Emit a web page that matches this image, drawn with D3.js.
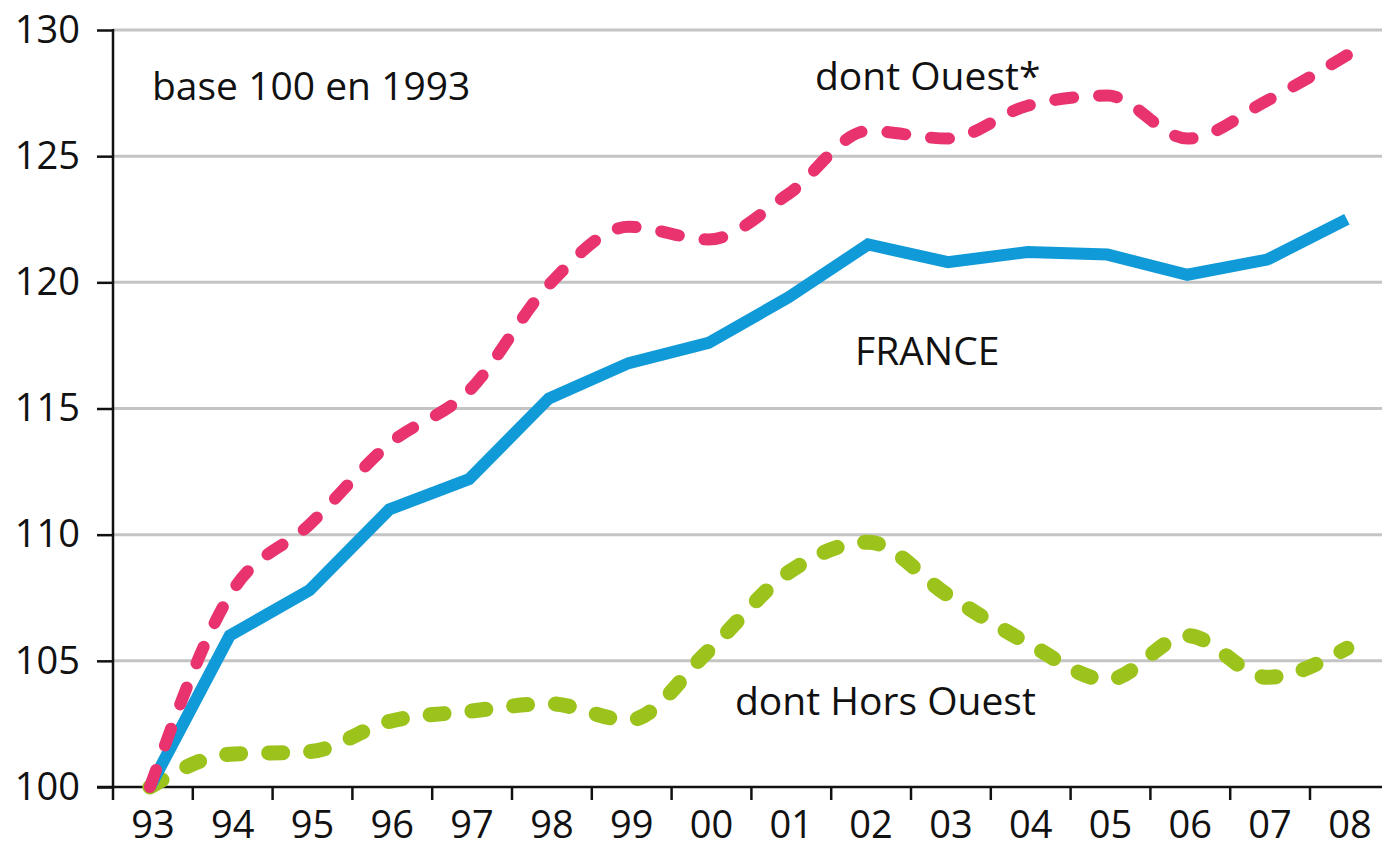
<!DOCTYPE html>
<html>
<head>
<meta charset="utf-8">
<script src="https://cdn.jsdelivr.net/npm/d3@7"></script>
<style>
  body { margin: 0; background: #fff; }
  svg { display: block; font-family: 'Open Sans', sans-serif; }
</style>
</head>
<body>
<svg width="1382" height="850"></svg>
<script>
// years on x axis
const years = ['93', '94', '95', '96', '97', '98', '99', '00', '01', '02', '03', '04', '05', '06', '07', '08'];
// index values, base 100 in 1993
const france = [100, 106.0, 107.8, 111.0, 112.2, 115.4, 116.8, 117.6, 119.4, 121.5, 120.8, 121.2, 121.1, 120.3, 120.9, 122.5];
const ouest = [100, 107.6, 110.4, 113.6, 115.7, 119.9, 122.2, 121.7, 123.5, 126.0, 125.7, 127.0, 127.4, 125.7, 127.2, 129.0];
const horsOuest = [100, 101.3, 101.4, 102.6, 103.0, 103.3, 102.65, 105.4, 108.5, 109.7, 107.6, 105.7, 104.25, 106.0, 104.35, 105.5];
const yTicks = [100, 105, 110, 115, 120, 125, 130];

const svg = d3.select('svg');
const width = 1382;

// plot box: left axis at 113, 100 at 787, 130 at 30
const x = d3.scaleBand().domain(years).range([113, 113 + 16 * 79.8]);
const y = d3.scaleLinear().domain([100, 130]).range([787, 30]);

//grid lines
svg.append('g')
  .selectAll('line')
  .data(yTicks.slice(1))
  .enter()
  .append('line')
  .attr('x1', 113)
  .attr('x2', width)
  .attr('y1', d => y(d))
  .attr('y2', d => y(d))
  .attr('stroke', '#c4c4c4')
  .attr('stroke-width', 3);

//y axis
const yAxis = svg.append('g')
  .attr('transform', 'translate(113,0)')
  .call(d3.axisLeft(y).tickValues(yTicks).tickSize(16).tickPadding(17).tickSizeOuter(0));
yAxis.select('.domain').remove();
yAxis.selectAll('.tick line').attr('stroke', '#111').attr('stroke-width', 2.5);
yAxis.selectAll('.tick text')
  .style('font-size', '38px')
  .style('font-family', "'Open Sans', sans-serif")
  .attr('fill', '#111');
svg.append('line')
  .attr('x1', 113).attr('x2', 113)
  .attr('y1', y(130) - 1).attr('y2', 800)
  .attr('stroke', '#111').attr('stroke-width', 2.5);

//x axis, labels in the middle of each band
const xAxis = svg.append('g')
  .attr('transform', 'translate(0,' + y(100) + ')')
  .call(d3.axisBottom(x).tickSize(0).tickPadding(24));
xAxis.select('.domain').remove();
xAxis.selectAll('.tick text')
  .style('font-size', '38px')
  .style('font-family', "'Open Sans', sans-serif")
  .attr('fill', '#111');
svg.append('line')
  .attr('x1', 97).attr('x2', width)
  .attr('y1', y(100)).attr('y2', y(100))
  .attr('stroke', '#111').attr('stroke-width', 2.5);

// tick marks on band edges
svg.append('g')
  .selectAll('line')
  .data(years.slice(1))
  .enter()
  .append('line')
  .attr('x1', d => x(d))
  .attr('x2', d => x(d))
  .attr('y1', y(100))
  .attr('y2', 800)
  .attr('stroke', '#111')
  .attr('stroke-width', 2.5);

const cx = i => x(years[i]) + x.bandwidth() / 2 - 3;

// series lines
const lineLin = d3.line().x((d, i) => cx(i)).y(d => y(d));
const lineSmooth = d3.line().x((d, i) => cx(i)).y(d => y(d)).curve(d3.curveMonotoneX);

svg.append('path')
  .datum(horsOuest)
  .attr('d', lineSmooth)
  .attr('fill', 'none')
  .attr('stroke', '#9cc21c')
  .attr('stroke-width', 15)
  .attr('stroke-linecap', 'round')
  .attr('stroke-dasharray', '14,28');

svg.append('path')
  .datum(france)
  .attr('d', lineLin)
  .attr('fill', 'none')
  .attr('stroke', '#119ad8')
  .attr('stroke-width', 12);

svg.append('path')
  .datum(ouest)
  .attr('d', lineSmooth)
  .attr('fill', 'none')
  .attr('stroke', '#e8336e')
  .attr('stroke-width', 12)
  .attr('stroke-linecap', 'round')
  .attr('stroke-dasharray', '18,26');

//labels
const labels = [
  { t: 'base 100 en 1993', x: 152, y: 100 },
  { t: 'dont Ouest*', x: 815, y: 90 },
  { t: 'FRANCE', x: 855, y: 365 },
  { t: 'dont Hors Ouest', x: 735, y: 715 }
];
svg.append('g')
  .selectAll('text')
  .data(labels)
  .enter()
  .append('text')
  .attr('x', d => d.x)
  .attr('y', d => d.y)
  .style('font-size', '39px')
  .attr('fill', '#111')
  .text(d => d.t);
</script>
</body>
</html>
